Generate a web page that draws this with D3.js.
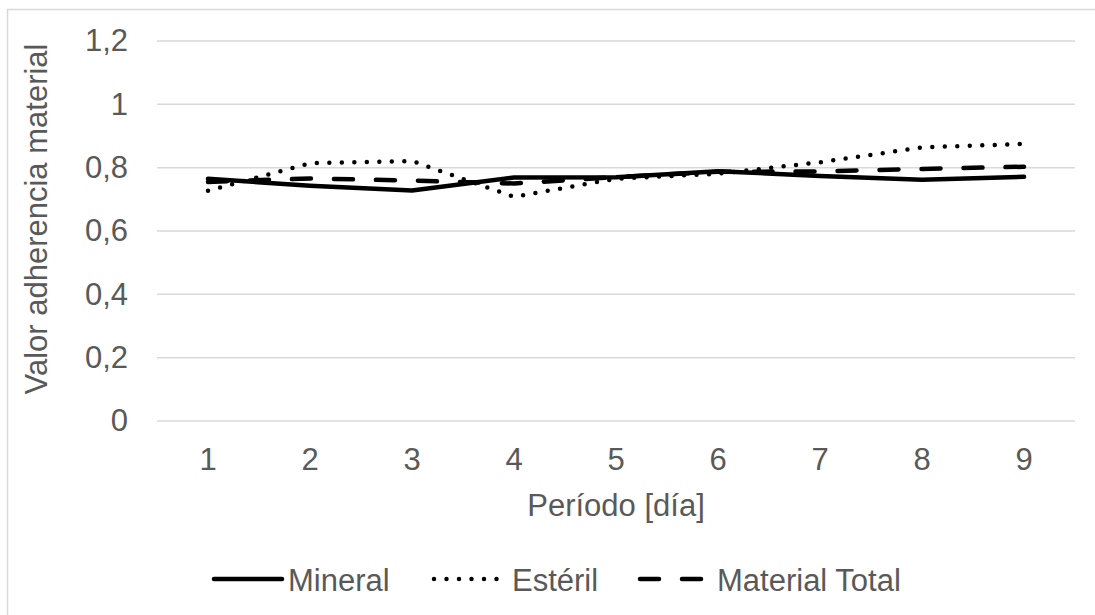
<!DOCTYPE html>
<html>
<head>
<meta charset="utf-8">
<script src="https://cdn.jsdelivr.net/npm/d3@7"></script>
<style>
  html, body { margin: 0; padding: 0; background: #fff; }
  svg { display: block; }
  text { font-family: "Liberation Sans", Arial, sans-serif; fill: #595959; }
</style>
</head>
<body>
<svg id="chart" width="1095" height="615"></svg>
<script>
// Adherence values per day
const days = ["1", "2", "3", "4", "5", "6", "7", "8", "9"];
const mineral = [0.765, 0.743, 0.728, 0.769, 0.770, 0.789, 0.774, 0.762, 0.771];
const esteril = [0.727, 0.814, 0.821, 0.708, 0.765, 0.781, 0.817, 0.864, 0.875];
const materialTotal = [0.755, 0.766, 0.759, 0.750, 0.770, 0.787, 0.788, 0.796, 0.803];
const yTicks = [0, 0.2, 0.4, 0.6, 0.8, 1, 1.2];
const seriesNames = ["Mineral", "Estéril", "Material Total"];

const series = [
  { name: seriesNames[0], values: mineral, dash: null },
  { name: seriesNames[1], values: esteril, dash: "0,12.5" },
  { name: seriesNames[2], values: materialTotal, dash: "19,23" }
];

const svg = d3.select("#chart");
const W = 1095, H = 615;
const FS = 31;
const plot = { left: 157, right: 1075, top: 41, bottom: 421 };

// chart frame
svg.append("rect")
  .attr("x", 7.5).attr("y", 9.5)
  .attr("width", W + 20).attr("height", H + 20)
  .attr("fill", "#fff").attr("stroke", "#d9d9d9").attr("stroke-width", 1.5);

const x = d3.scaleBand().domain(days).range([plot.left, plot.right]);
const y = d3.scaleLinear().domain([0, 1.2]).range([plot.bottom, plot.top]);
const fmt = v => String(v).replace(".", ",");

// horizontal gridlines
svg.append("g").selectAll("line").data(yTicks).join("line")
  .attr("x1", plot.left).attr("x2", plot.right)
  .attr("y1", d => y(d)).attr("y2", d => y(d))
  .attr("stroke", "#d9d9d9").attr("stroke-width", 1.5);

// y tick labels
const yAxis = d3.axisLeft(y).tickValues(yTicks).tickFormat(fmt).tickSize(0).tickPadding(29);
const gy = svg.append("g").attr("transform", `translate(${plot.left},0)`).call(yAxis);
gy.select(".domain").remove();
gy.selectAll("text").attr("font-size", FS).attr("fill", "#595959")
  .attr("font-family", "Liberation Sans, Arial, sans-serif");

// x tick labels
const xAxis = d3.axisBottom(x).tickSize(0).tickPadding(0);
const gx = svg.append("g").attr("transform", `translate(0,${plot.bottom})`).call(xAxis);
gx.select(".domain").remove();
gx.selectAll("text").attr("font-size", FS).attr("fill", "#595959")
  .attr("font-family", "Liberation Sans, Arial, sans-serif")
  .attr("dy", null).attr("y", 49);

// axis titles
svg.append("text")
  .attr("x", (plot.left + plot.right) / 2).attr("y", 516)
  .attr("text-anchor", "middle").attr("font-size", FS)
  .text("Período [día]");
svg.append("text")
  .attr("transform", `translate(47,219) rotate(-90)`)
  .attr("text-anchor", "middle").attr("font-size", FS)
  .text("Valor adherencia material");

// series lines
const line = d3.line()
  .x((d, i) => x(days[i]) + x.bandwidth() / 2)
  .y(d => y(d));

svg.append("g").selectAll("path").data(series).join("path")
  .attr("d", d => line(d.values))
  .attr("fill", "none").attr("stroke", "#000").attr("stroke-width", 4.5)
  .attr("stroke-linecap", "round").attr("stroke-linejoin", "round")
  .attr("stroke-dasharray", d => d.dash);

// legend
const legendY = 579;
const legendItems = [
  { s: series[0], x0: 214, x1: 282, tx: 288 },
  { s: series[1], x0: 434, x1: 497, tx: 512 },
  { s: series[2], x0: 640, x1: 703, tx: 717 }
];
const lg = svg.append("g");
legendItems.forEach(it => {
  lg.append("line")
    .attr("x1", it.x0).attr("x2", it.x1).attr("y1", legendY).attr("y2", legendY)
    .attr("stroke", "#000").attr("stroke-width", 4.5).attr("stroke-linecap", "round")
    .attr("stroke-dasharray", it.s.dash);
  lg.append("text").attr("x", it.tx).attr("y", 591)
    .attr("font-size", FS).text(it.s.name);
});
</script>
</body>
</html>
